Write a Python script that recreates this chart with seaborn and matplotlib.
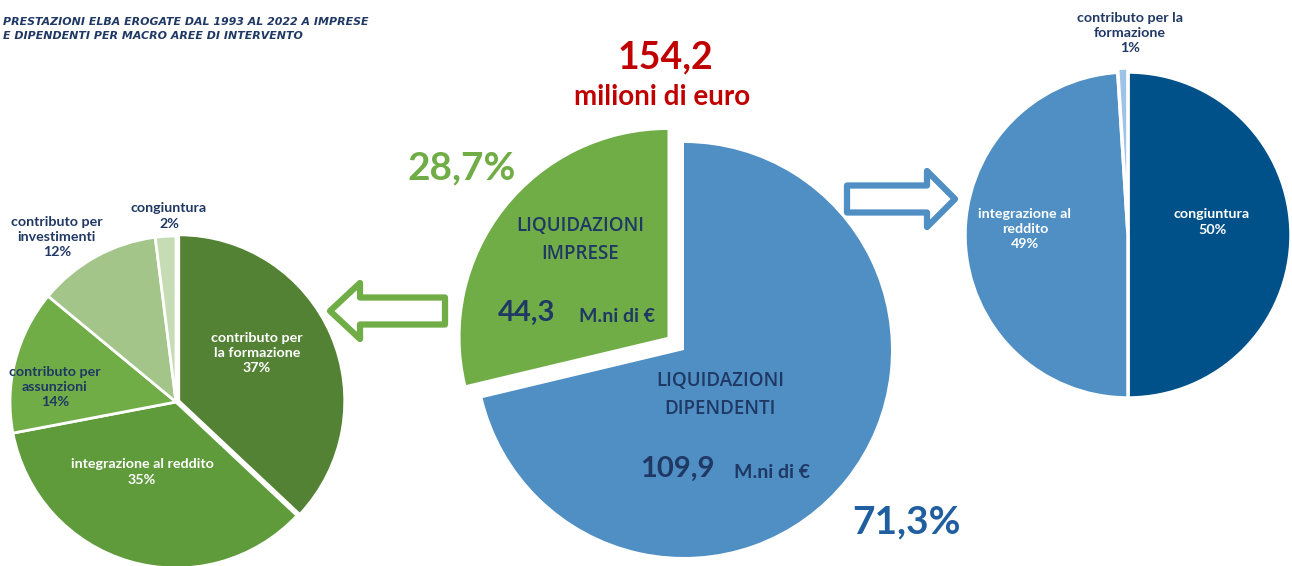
import numpy as np
import pandas as pd
import matplotlib.pyplot as plt
import seaborn as sns
from matplotlib.patches import FancyArrow

# data
totale = "154,2"
macro_labels = ['LIQUIDAZIONI\nIMPRESE', 'LIQUIDAZIONI\nDIPENDENTI']
macro_values = [44.3, 109.9]
macro_pct = ['28,7%', '71,3%']
macro_amount = ['44,3', '109,9']

imprese_labels = ['contributo per\nla formazione', 'integrazione al reddito',
                  'contributo per\nassunzioni', 'contributo per\ninvestimenti', 'congiuntura']
imprese_values = [37, 35, 14, 12, 2]

dipendenti_labels = ['congiuntura', 'integrazione al\nreddito', 'contributo per la\nformazione']
dipendenti_values = [50, 49, 1]

sns.set_theme(style='white')
plt.rcParams['font.family'] = ['Lato', 'DejaVu Sans']

W, H = 1292, 566
fig = plt.figure(figsize=(W / 100, H / 100), dpi=100)
ax = fig.add_axes([0, 0, 1, 1])

navy = '#1F3864'

# central pie (explode is in data units, i.e. pixels here)
ax.pie(macro_values, center=(684, H - 350), radius=207, startangle=90,
       counterclock=True, explode=[21, 0], colors=['#70AD47', '#4F8FC4'],
       wedgeprops=dict(linewidth=0))

# left pie - imprese
left_colors = ['#548235', '#5F9B3B', '#70AD47', '#A3C58A', '#C5DCB5']
ax.pie(imprese_values, center=(176, H - 402), radius=166, startangle=90,
       counterclock=False, explode=[3, 0, 0, 0, 0], colors=left_colors,
       wedgeprops=dict(edgecolor='white', linewidth=2))

# right pie - dipendenti
right_colors = ['#00508A', '#4F8FC4', '#9DC3E6']
ax.pie(dipendenti_values, center=(1128, H - 235), radius=163, startangle=90,
       counterclock=False, explode=[0, 0, 4], colors=right_colors,
       wedgeprops=dict(edgecolor='white', linewidth=2.5))

ax.set_xlim(0, W)
ax.set_ylim(0, H)
ax.set_aspect('equal')
ax.axis('off')

# arrows
ax.add_patch(FancyArrow(445, H - 311, -85, 0, width=27, head_width=56, head_length=30,
                        length_includes_head=False, facecolor='white', edgecolor='#70AD47',
                        linewidth=4.5, joinstyle='round'))
ax.add_patch(FancyArrow(847, H - 199, 80, 0, width=27, head_width=56, head_length=28,
                        length_includes_head=False, facecolor='white', edgecolor='#4F8FC4',
                        linewidth=4.5, joinstyle='round'))

# titles
ax.text(3, H - 29, 'PRESTAZIONI ELBA EROGATE DAL 1993 AL 2022 A IMPRESE\nE DIPENDENTI PER MACRO AREE DI INTERVENTO',
        fontsize=7.9, fontweight='bold', fontstyle='italic', color=navy, va='center', ha='left',
        linespacing=1.45, family='DejaVu Sans')
ax.text(665, H - 57, totale, fontsize=27, fontweight='bold', color='#C00000', ha='center', va='center')
ax.text(662, H - 97, 'milioni di euro', fontsize=20, fontweight='bold', color='#C00000', ha='center', va='center')

ax.text(462, H - 168, macro_pct[0], fontsize=28, fontweight='bold', color='#70AD47', ha='center', va='center')
ax.text(906, H - 522, macro_pct[1], fontsize=28, fontweight='bold', color='#1F5FA0', ha='center', va='center')

mid = dict(fontsize=13.5, fontweight=600, color=navy, ha='center', va='center', linespacing=1.5,
           family=['Open Sans', 'DejaVu Sans'])
ax.text(580, H - 240, macro_labels[0], **mid)
ax.text(527, H - 313, macro_amount[0], fontsize=21, fontweight='bold', color=navy, ha='center', va='center')
ax.text(617, H - 316, 'M.ni di €', fontsize=14, fontweight='bold', color=navy, ha='center', va='center')

ax.text(720, H - 395, macro_labels[1], **mid)
ax.text(677, H - 469, macro_amount[1], fontsize=21, fontweight='bold', color=navy, ha='center', va='center')
ax.text(772, H - 472, 'M.ni di €', fontsize=14, fontweight='bold', color=navy, ha='center', va='center')

# left pie labels
lbl = dict(fontsize=10.3, fontweight='bold', ha='center', va='center', linespacing=1.35)
ax.text(257, H - 353, imprese_labels[0] + '\n' + f'{imprese_values[0]}%', color='white', **lbl)
ax.text(142, H - 472, imprese_labels[1] + '\n' + f'{imprese_values[1]}%', color='white', **lbl)
ax.text(55, H - 387, imprese_labels[2] + '\n' + f'{imprese_values[2]}%', color=navy, **lbl)
ax.text(57, H - 237, imprese_labels[3] + '\n' + f'{imprese_values[3]}%', color=navy, **lbl)
ax.text(169, H - 216, imprese_labels[4] + '\n' + f'{imprese_values[4]}%', color=navy, **lbl)

# right pie labels
ax.text(1212, H - 222, dipendenti_labels[0] + '\n' + f'{dipendenti_values[0]}%', color='white', **lbl)
ax.text(1025, H - 229, dipendenti_labels[1] + '\n' + f'{dipendenti_values[1]}%', color='white', **lbl)
ax.text(1130, H - 33, dipendenti_labels[2] + '\n' + f'{dipendenti_values[2]}%', color=navy, **lbl)

fig.savefig('out.png', dpi=100)
